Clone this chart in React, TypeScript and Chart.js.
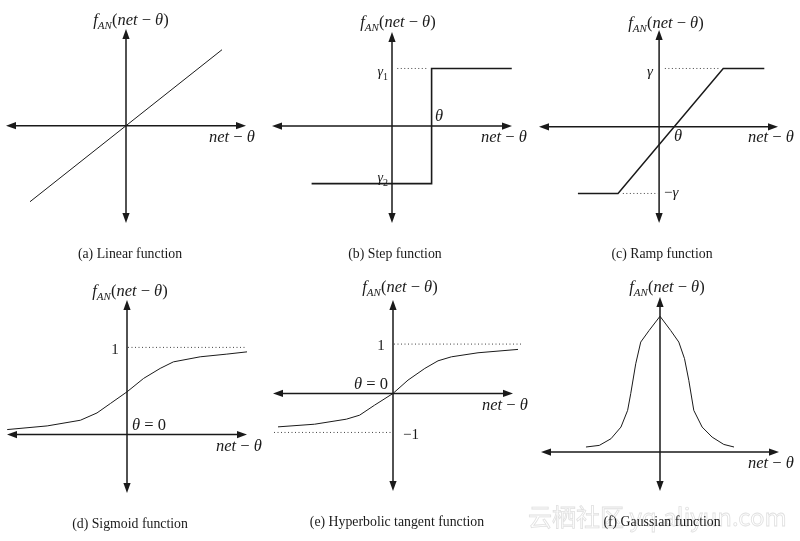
import { useEffect, useRef } from "react";
import { Chart, registerables } from "chart.js";
Chart.register(...registerables);

// ---------- data ----------
// (a) Linear function
const linearX = [-4, 4];
const linearY = [-4, 4];
// (b) Step function
const stepX = [-3.35, 1.65, 1.65, 4.99];
const stepY = [-3, -3, 3, 3];
const stepGuideX = [0.22, 1.45];
const stepGuideY = [3, 3];
// (c) Ramp function
const rampX = [-3.38, -1.71, 2.67, 4.38];
const rampY = [-3.43, -3.43, 3.0, 3.0];
const rampUpperGuideX = [0.24, 2.53];
const rampUpperGuideY = [3, 3];
const rampLowerGuideX = [-1.51, -0.05];
const rampLowerGuideY = [-3.43, -3.43];
// (d) Sigmoid function
const sigmoidX = [-5.99, -3.99, -2.33, -1.5, -0.83, 0, 0.83, 1.66, 2.32, 3.66, 4.99, 6.0];
const sigmoidY = [0.057, 0.099, 0.164, 0.248, 0.356, 0.49, 0.644, 0.759, 0.834, 0.892, 0.923, 0.949];
const sigmoidGuideX = [0.05, 5.97];
const sigmoidGuideY = [1, 1];
// (e) Hyperbolic tangent function
const tanhX = [-5.75, -3.92, -2.33, -1.67, -0.92, 0, 0.75, 1.59, 2.25, 2.92, 4.25, 6.25];
const tanhY = [-0.677, -0.623, -0.521, -0.44, -0.237, 0, 0.27, 0.507, 0.661, 0.742, 0.824, 0.892];
const tanhUpperGuideX = [0.05, 6.42];
const tanhUpperGuideY = [1, 1];
const tanhLowerGuideX = [-5.95, 0];
const tanhLowerGuideY = [-0.79, -0.79];
// (f) Gaussian function
const gaussX = [-3.11, -2.55, -2.06, -1.64, -1.36, -1.23, -1.02, -0.81, -0.46, 0, 0.45, 0.79, 1.03, 1.21, 1.42, 1.77, 2.19, 2.68, 3.11];
const gaussY = [0.037, 0.049, 0.098, 0.184, 0.307, 0.43, 0.65, 0.81, 0.895, 1.0, 0.895, 0.81, 0.688, 0.528, 0.307, 0.184, 0.11, 0.056, 0.037];

const captions = [
  "(a) Linear function",
  "(b) Step function",
  "(c) Ramp function",
  "(d) Sigmoid function",
  "(e) Hyperbolic tangent function",
  "(f) Gaussian function",
];

// ---------- layout / drawing ----------
const W = 800;
const H = 541;
const SERIF = '"Liberation Serif", "DejaVu Serif", serif';
const INK = "#1a1a1a";
const MATH = 16.5;

type Seg = [string, "i" | "r" | "s" | "sr"];
interface Lbl { segs: Seg[]; x: number; y: number; align: "left" | "center" | "right"; size?: number }
interface Series { xs: number[]; ys: number[]; dotted?: boolean; width?: number }
interface Panel {
  box: [number, number, number, number];
  xRange: [number, number];
  yRange: [number, number];
  series: Series[];
  labels: Lbl[];
  caption: string;
  capX: number;
  capY: number;
  watermark?: boolean;
}

const FAN: Seg[] = [["f", "i"], ["AN", "s"], ["(", "r"], ["net", "i"], [" \u2212 ", "r"], ["\u03B8", "i"], [")", "r"]];
const NET: Seg[] = [["net", "i"], [" \u2212 ", "r"], ["\u03B8", "i"]];

function fontFor(kind: string, size: number) {
  if (kind === "i") return `italic ${size}px ${SERIF}`;
  if (kind === "r") return `${size}px ${SERIF}`;
  if (kind === "s") return `italic ${Math.round(size * 0.68)}px ${SERIF}`;
  return `${Math.round(size * 0.68)}px ${SERIF}`;
}

function drawRich(ctx: CanvasRenderingContext2D, l: Lbl) {
  const size = l.size ?? MATH;
  let total = 0;
  const widths = l.segs.map(([t, k]) => {
    ctx.font = fontFor(k, size);
    const w = ctx.measureText(t).width;
    total += w;
    return w;
  });
  let x = l.x;
  if (l.align === "center") x -= total / 2;
  else if (l.align === "right") x -= total;
  ctx.textAlign = "left";
  ctx.textBaseline = "alphabetic";
  ctx.fillStyle = INK;
  l.segs.forEach(([t, k], i) => {
    ctx.font = fontFor(k, size);
    const dy = k === "s" || k === "sr" ? size * 0.25 : 0;
    ctx.fillText(t, x, l.y + dy);
    x += widths[i];
  });
}

function arrow(ctx: CanvasRenderingContext2D, tx: number, ty: number, dx: number, dy: number) {
  const L = 10;
  const Wd = 3.6;
  const bx = tx - dx * L;
  const by = ty - dy * L;
  ctx.beginPath();
  ctx.moveTo(tx, ty);
  ctx.lineTo(bx - dy * Wd, by + dx * Wd);
  ctx.lineTo(bx + dy * Wd, by - dx * Wd);
  ctx.closePath();
  ctx.fill();
}

function makePlugin(p: Panel) {
  return {
    id: "panelDecor",
    beforeDatasetsDraw(chart: any) {
      const ctx: CanvasRenderingContext2D = chart.ctx;
      const xs = chart.scales.x;
      const ys = chart.scales.y;
      const x0 = xs.getPixelForValue(0);
      const y0 = ys.getPixelForValue(0);
      const xl = xs.getPixelForValue(xs.min);
      const xr = xs.getPixelForValue(xs.max);
      const yt = ys.getPixelForValue(ys.max);
      const yb = ys.getPixelForValue(ys.min);
      ctx.save();
      ctx.strokeStyle = INK;
      ctx.fillStyle = INK;
      ctx.lineWidth = 1.5;
      ctx.beginPath();
      ctx.moveTo(xl + 4, y0);
      ctx.lineTo(xr - 4, y0);
      ctx.moveTo(x0, yt + 4);
      ctx.lineTo(x0, yb - 4);
      ctx.stroke();
      arrow(ctx, xl, y0, -1, 0);
      arrow(ctx, xr, y0, 1, 0);
      arrow(ctx, x0, yt, 0, -1);
      arrow(ctx, x0, yb, 0, 1);
      ctx.restore();
    },
    afterDraw(chart: any) {
      const ctx: CanvasRenderingContext2D = chart.ctx;
      ctx.save();
      if (p.watermark) {
        ctx.font = `24px "Noto Sans CJK SC", "Noto Sans", sans-serif`;
        ctx.textAlign = "left";
        ctx.textBaseline = "alphabetic";
        ctx.strokeStyle = "#e0e0e0";
        ctx.lineWidth = 0.8;
        ctx.strokeText("\u4E91\u6816\u793E\u533A yq.aliyun.com", 528, 526, 262);
      }
      p.labels.forEach((l) => drawRich(ctx, l));
      ctx.font = `13.8px ${SERIF}`;
      ctx.fillStyle = INK;
      ctx.textAlign = "center";
      ctx.textBaseline = "alphabetic";
      ctx.fillText(p.caption, p.capX, p.capY);
      ctx.restore();
    },
  };
}

const panels: Panel[] = [
  {
    box: [6, 29, 246, 223], xRange: [-5, 5], yRange: [-5.12, 5.09],
    series: [{ xs: linearX, ys: linearY, width: 1 }],
    labels: [
      { segs: FAN, x: 131, y: 25, align: "center" },
      { segs: NET, x: 209, y: 142, align: "left" },
    ],
    caption: captions[0], capX: 130, capY: 258,
  },
  {
    box: [272, 32, 512, 223], xRange: [-5, 5], yRange: [-5.05, 4.9],
    series: [
      { xs: stepX, ys: stepY, width: 1.6 },
      { xs: stepGuideX, ys: stepGuideY, dotted: true },
    ],
    labels: [
      { segs: FAN, x: 398, y: 27, align: "center" },
      { segs: [["\u03B3", "i"], ["1", "sr"]], x: 388, y: 76, align: "right", size: 14 },
      { segs: [["\u03B3", "i"], ["2", "sr"]], x: 388, y: 182, align: "right", size: 14 },
      { segs: [["\u03B8", "i"]], x: 435, y: 121, align: "left" },
      { segs: NET, x: 481, y: 142, align: "left" },
    ],
    caption: captions[1], capX: 395, capY: 258,
  },
  {
    box: [539, 30, 778, 223], xRange: [-5, 4.95], yRange: [-4.95, 4.98],
    series: [
      { xs: rampX, ys: rampY, width: 1.5 },
      { xs: rampUpperGuideX, ys: rampUpperGuideY, dotted: true },
      { xs: rampLowerGuideX, ys: rampLowerGuideY, dotted: true },
    ],
    labels: [
      { segs: FAN, x: 666, y: 28, align: "center" },
      { segs: [["\u03B3", "i"]], x: 650, y: 76, align: "center", size: 15 },
      { segs: [["\u2212", "r"], ["\u03B3", "i"]], x: 664, y: 197, align: "left", size: 15 },
      { segs: [["\u03B8", "i"]], x: 678, y: 141, align: "center" },
      { segs: NET, x: 748, y: 142, align: "left" },
    ],
    caption: captions[2], capX: 662, capY: 258,
  },
  {
    box: [7, 300, 247, 493], xRange: [-6, 6], yRange: [-0.671, 1.544],
    series: [
      { xs: sigmoidX, ys: sigmoidY, width: 1 },
      { xs: sigmoidGuideX, ys: sigmoidGuideY, dotted: true },
    ],
    labels: [
      { segs: FAN, x: 130, y: 296, align: "center" },
      { segs: [["1", "r"]], x: 115, y: 354, align: "center", size: 15 },
      { segs: [["\u03B8", "i"], [" = 0", "r"]], x: 132, y: 430, align: "left" },
      { segs: NET, x: 216, y: 451, align: "left" },
    ],
    caption: captions[3], capX: 130, capY: 528,
  },
  {
    box: [273, 300, 513, 491], xRange: [-6, 6], yRange: [-1.976, 1.893],
    series: [
      { xs: tanhX, ys: tanhY, width: 1 },
      { xs: tanhUpperGuideX, ys: tanhUpperGuideY, dotted: true },
      { xs: tanhLowerGuideX, ys: tanhLowerGuideY, dotted: true },
    ],
    labels: [
      { segs: FAN, x: 400, y: 292, align: "center" },
      { segs: [["1", "r"]], x: 381, y: 350, align: "center", size: 15 },
      { segs: [["\u2212", "r"], ["1", "r"]], x: 403, y: 439, align: "left", size: 15 },
      { segs: [["\u03B8", "i"], [" = 0", "r"]], x: 388, y: 389, align: "right" },
      { segs: NET, x: 482, y: 410, align: "left" },
    ],
    caption: captions[4], capX: 397, capY: 526,
  },
  {
    box: [541, 297, 779, 491], xRange: [-5, 5], yRange: [-0.287, 1.142],
    series: [{ xs: gaussX, ys: gaussY, width: 1 }],
    labels: [
      { segs: FAN, x: 667, y: 292, align: "center" },
      { segs: NET, x: 748, y: 468, align: "left" },
    ],
    caption: captions[5], capX: 662, capY: 526,
    watermark: true,
  },
];

function PanelChart({ p }: { p: Panel }) {
  const ref = useRef<HTMLCanvasElement>(null);
  useEffect(() => {
    const c = ref.current!;
    const chart = new Chart(c, {
      type: "scatter",
      data: {
        datasets: p.series.map((s) => ({
          data: s.xs.map((x, i) => ({ x, y: s.ys[i] })),
          showLine: true,
          pointRadius: 0,
          borderColor: s.dotted ? "#444" : INK,
          borderWidth: s.width ?? 1,
          borderDash: s.dotted ? [1, 2.5] : [],
          tension: 0,
          clip: false as any,
        })),
      },
      options: {
        animation: false,
        responsive: false,
        devicePixelRatio: 1,
        events: [],
        layout: { padding: { left: p.box[0], top: p.box[1], right: W - p.box[2], bottom: H - p.box[3] } },
        scales: {
          x: { type: "linear", display: false, min: p.xRange[0], max: p.xRange[1] },
          y: { type: "linear", display: false, min: p.yRange[0], max: p.yRange[1] },
        },
        plugins: { legend: { display: false }, tooltip: { enabled: false } },
      },
      plugins: [makePlugin(p) as any],
    } as any);
    return () => chart.destroy();
  }, [p]);
  return (
    <canvas
      ref={ref}
      width={W}
      height={H}
      style={{ position: "absolute", left: 0, top: 0, width: W, height: H }}
    />
  );
}

export default function App() {
  return (
    <div style={{ position: "absolute", left: 0, top: 0, width: W, height: H, background: "#fff", overflow: "hidden" }}>
      {panels.map((p, i) => (
        <PanelChart key={i} p={p} />
      ))}
    </div>
  );
}
